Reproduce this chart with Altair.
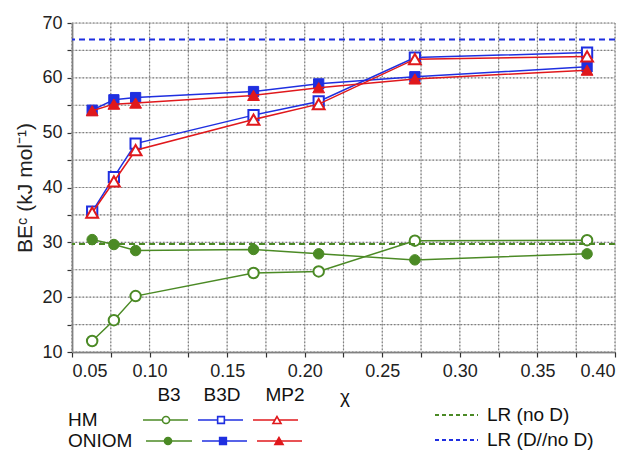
import altair as alt
import pandas as pd

# ---- data ----
chi = [0.063, 0.077, 0.091, 0.167, 0.209, 0.271, 0.382]
b3_hm = [12.0, 15.8, 20.2, 24.4, 24.7, 30.3, 30.4]
b3_oniom = [30.5, 29.6, 28.5, 28.7, 27.9, 26.8, 27.9]
b3d_hm = [35.6, 41.9, 48.0, 53.2, 55.7, 63.7, 64.6]
b3d_oniom = [54.1, 56.0, 56.4, 57.5, 58.9, 60.2, 62.0]
mp2_hm = [35.4, 41.1, 46.8, 52.4, 55.2, 63.4, 63.9]
mp2_oniom = [54.0, 55.2, 55.4, 56.8, 58.2, 59.8, 61.4]
lr_labels = ["LR (no D)", "LR (D//no D)"]
lr_values = [29.7, 67.0]
x_ticks = [0.05, 0.075, 0.10, 0.125, 0.15, 0.175, 0.20, 0.225, 0.25, 0.275, 0.30, 0.325, 0.35, 0.375, 0.40]
y_ticks = [10, 15, 20, 25, 30, 35, 40, 45, 50, 55, 60, 65, 70]

GREEN = "#4b8a25"
BLUE = "#1f2fe0"
RED = "#e0181c"
FONT = "Liberation Sans"
W, H = 543, 329

series = [
    ("B3", "HM", b3_hm, GREEN, "circle", False),
    ("B3", "ONIOM", b3_oniom, GREEN, "circle", True),
    ("B3D", "HM", b3d_hm, BLUE, "square", False),
    ("B3D", "ONIOM", b3d_oniom, BLUE, "square", True),
    ("MP2", "HM", mp2_hm, RED, "triangle-up", False),
    ("MP2", "ONIOM", mp2_oniom, RED, "triangle-up", True),
]
rows = []
for m, lvl, vals, *_ in series:
    for x, v in zip(chi, vals):
        rows.append({"chi": x, "BE": v, "series": f"{m}-{lvl}"})
df = pd.DataFrame(rows)

xs = alt.Scale(domain=[0.05, 0.40], nice=False, zero=False)
ys = alt.Scale(domain=[10, 70], nice=False, zero=False)

x_axis = alt.Axis(
    values=x_ticks,
    labelExpr="round(datum.value*1000) % 50 == 0 ? format(datum.value, '.2f') : ''",
    title=None,
)
y_axis = alt.Axis(
    values=y_ticks,
    labelExpr="datum.value % 10 == 0 ? datum.label : ''",
    title="BEᶜ (kJ mol⁻¹)",
)

layers = []

# grid: light solid line with darker dots on top
gx = pd.DataFrame({"gx": x_ticks})
gy = pd.DataFrame({"gy": y_ticks})
for style in (dict(color="#cfcfcf", strokeWidth=1), dict(color="#808080", strokeDash=[1.5, 2], strokeWidth=1.2)):
    layers.append(alt.Chart(gx).mark_rule(**style).encode(
        x=alt.X("gx:Q", scale=xs, axis=x_axis), y=alt.value(0), y2=alt.value(H)))
    layers.append(alt.Chart(gy).mark_rule(**style).encode(
        y=alt.Y("gy:Q", scale=ys, axis=y_axis), x=alt.value(0), x2=alt.value(W)))

base = alt.Chart(df)
for m, lvl, vals, col, shape, filled in series:
    key = f"{m}-{lvl}"
    sub = base.transform_filter(alt.datum.series == key)
    enc = dict(x=alt.X("chi:Q", scale=xs, axis=x_axis), y=alt.Y("BE:Q", scale=ys, axis=y_axis))
    layers.append(sub.mark_line(color=col, strokeWidth=1.5).encode(**enc))
    size = {"circle": 110, "square": 105, "triangle-up": 140}[shape]
    if filled:
        pt = sub.mark_point(shape=shape, size=size, filled=True, fill=col, stroke=col,
                            strokeWidth=1, opacity=1)
    else:
        pt = sub.mark_point(shape=shape, size=size, filled=True, fill="white", stroke=col,
                            strokeWidth=2, opacity=1)
    layers.append(pt.encode(**enc))

# reference lines
lr_df = pd.DataFrame({"label": lr_labels, "value": lr_values})
for lab, col in zip(lr_labels, [GREEN, BLUE]):
    layers.append(
        alt.Chart(lr_df).transform_filter(alt.datum.label == lab)
        .mark_rule(color=col, strokeDash=[6, 4], strokeWidth=2)
        .encode(y=alt.Y("value:Q", scale=ys, axis=y_axis))
    )

# ---- custom legend below the plot ----
one = pd.DataFrame({"a": [0]})


def txt(s, x, y, align="center", size=19):
    return alt.Chart(one).mark_text(text=s, align=align, baseline="middle", font=FONT,
                                    fontSize=size, color="#111").encode(
        x=alt.value(x), y=alt.value(y))


def seg(x1, x2, y, col, dash=None, w=1.5):
    kw = dict(color=col, strokeWidth=w)
    if dash:
        kw["strokeDash"] = dash
    return alt.Chart(one).mark_rule(**kw).encode(x=alt.value(x1), x2=alt.value(x2), y=alt.value(y))


def sym(x, y, col, shape, filled):
    size = {"circle": 50, "square": 45, "triangle-up": 65}[shape]
    return alt.Chart(one).mark_point(shape=shape, size=size, filled=True,
                                     fill=col if filled else "white", stroke=col,
                                     strokeWidth=1.6, opacity=1).encode(x=alt.value(x), y=alt.value(y))


layers += [txt("B3", 97, 372), txt("B3D", 150, 372), txt("MP2", 213, 372), txt("χ", 273, 374),
           txt("HM", -4, 397, align="left"), txt("ONIOM", -4, 418, align="left")]
leg_pos = {
    ("B3", "HM"): (71, 116, 94, 397), ("B3D", "HM"): (126, 171, 149, 397), ("MP2", "HM"): (181, 226, 205, 397),
    ("B3", "ONIOM"): (74, 120, 96, 418), ("B3D", "ONIOM"): (130, 175, 151, 418), ("MP2", "ONIOM"): (185, 230, 207, 418),
}
for m, lvl, vals, col, shape, filled in series:
    x1, x2, xc, yy = leg_pos[(m, lvl)]
    layers.append(seg(x1, x2, yy, col))
    layers.append(sym(xc, yy, col, shape, filled))

layers += [seg(363, 406, 392, GREEN, dash=[4, 3], w=2), txt(lr_labels[0], 415, 392, align="left"),
           seg(363, 406, 417, BLUE, dash=[4, 3], w=2), txt(lr_labels[1], 415, 417, align="left")]

chart = alt.layer(*layers).properties(
    width=W, height=H,
    autosize=alt.AutoSizeParams(type="none"),
    padding={"left": 64, "top": 15, "right": 14, "bottom": 104},
).configure_view(stroke="#333", strokeWidth=1.5).configure(background="white").configure_axis(
    grid=False,
    tickSize=5, labelPadding=5, labelFontSize=18, labelFont=FONT, labelColor="#222",
    domainColor="#333", domainWidth=1.5, tickColor="#333", tickWidth=1.2,
    titleFontSize=21, titleFont=FONT, titleFontWeight="normal", titleColor="#222", titlePadding=6,
)

chart.save("out.html", embed_options={"renderer": "svg", "actions": False})
